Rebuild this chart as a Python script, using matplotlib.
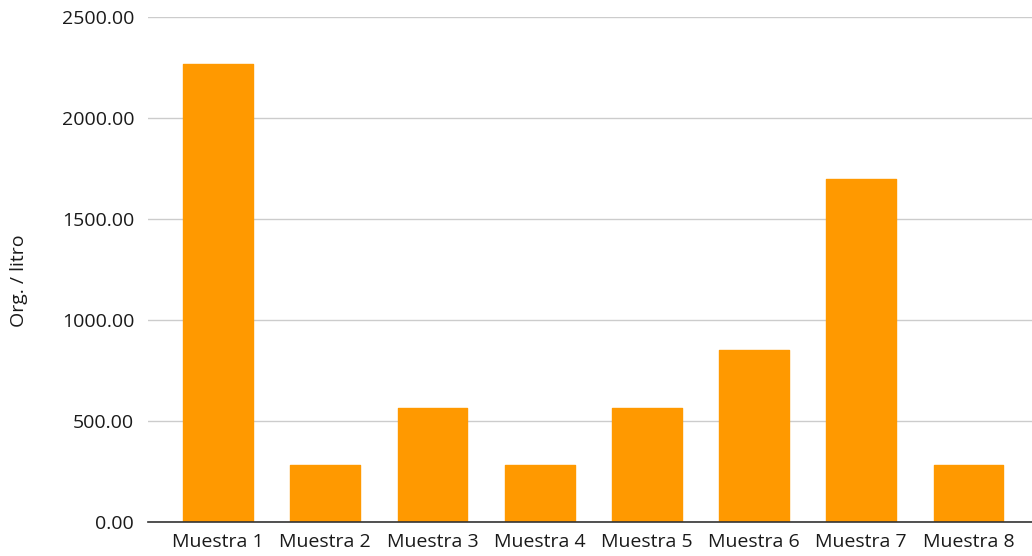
import matplotlib
matplotlib.use("Agg")
import matplotlib.pyplot as plt

categories = ["Muestra 1", "Muestra 2", "Muestra 3", "Muestra 4",
              "Muestra 5", "Muestra 6", "Muestra 7", "Muestra 8"]
values = [2266.67, 283.33, 566.67, 283.33, 566.67, 850.00, 1700.00, 283.33]
yticks = [0, 500, 1000, 1500, 2000, 2500]

plt.rcParams['font.family'] = ['Open Sans', 'DejaVu Sans']

fig = plt.figure(figsize=(10.32, 5.56), dpi=100)
ax = fig.add_axes([0.1434, 0.0612, 0.8566, 0.9082])

x = range(len(categories))
bars = ax.bar(x, values, width=0.65, color="#ff9900", edgecolor="#ff9900",
              linewidth=1.0, joinstyle="round", zorder=3)

ax.set_xlim(-0.653, 7.592)
ax.set_ylim(0, 2500)
ax.set_yticks(yticks)
ax.set_yticklabels([f"{v:.2f}" for v in yticks])
ax.set_xticks(list(x))
ax.set_xticklabels(categories)

ax.grid(axis="y", color="#cccccc", linewidth=1.0, zorder=0)
ax.set_axisbelow(True)
for s in ["top", "right", "left"]:
    ax.spines[s].set_visible(False)
ax.spines["bottom"].set_color("#333333")
ax.spines["bottom"].set_linewidth(1.2)
ax.spines["bottom"].set_zorder(4)

ax.tick_params(axis="y", length=0, pad=10, labelsize=14, labelcolor="#1a1a1a")
ax.tick_params(axis="x", length=0, pad=8, labelsize=14, labelcolor="#1a1a1a")

ax.set_ylabel("Org. / litro", fontsize=14, color="#1a1a1a")
ax.yaxis.set_label_coords(-0.136, 0.478)

fig.savefig("out.png", dpi=100)
